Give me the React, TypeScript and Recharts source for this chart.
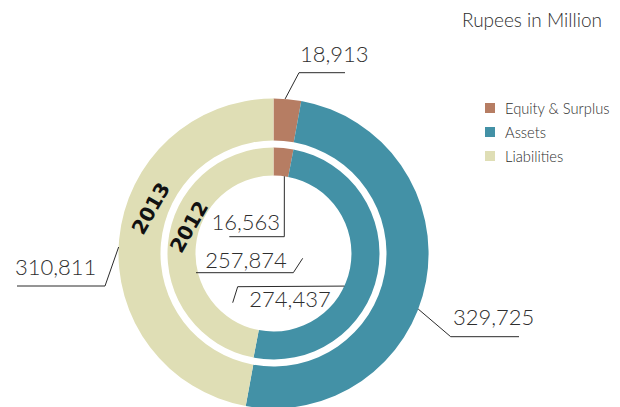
import { PieChart, Pie, Cell, Legend } from "recharts";

const categories = ["Equity & Surplus", "Assets", "Liabilities"];
const values2013 = [18913, 329725, 310811];
const values2012 = [16563, 274437, 257874];
const COLORS = ["#b67d63", "#4391a6", "#dfdeb5"];

const FONT = "Lato, 'Open Sans', sans-serif";
const RAD = Math.PI / 180;

const data2013 = categories.map((name, i) => ({ name, value: values2013[i] }));
const data2012 = categories.map((name, i) => ({ name, value: values2012[i] }));

type Spec = {
  angle?: number;
  edge?: "inner" | "outer";
  start?: [number, number];
  path: [number, number][];
  text: [number, number];
  anchor: "start" | "end";
};

// leader lines, offsets relative to the pie centre
const outerSpecs: Spec[] = [
  { angle: 85.7, edge: "outer", path: [[25.5, -180.8], [71.5, -180.8]], text: [26.5, -191.5], anchor: "start" },
  { angle: -21, edge: "outer", path: [[177.2, 83.2], [245.5, 83.2]], text: [179.5, 71.5], anchor: "start" },
  { angle: 177.6, edge: "outer", path: [[-168.5, 32.5], [-256.5, 32.5]], text: [-258.5, 21.5], anchor: "start" },
];
const innerSpecs: Spec[] = [
  { angle: 82, edge: "inner", path: [[10.8, -16.8], [-44.2, -16.8]], text: [6.5, -23.5], anchor: "end" },
  { angle: -24.7, edge: "inner", path: [[-35.8, 33.2], [-40.8, 49.2]], text: [-24.2, 53.2], anchor: "start" },
  { start: [29.2, 4.8], path: [[19.8, 19.2], [-77.5, 19.2]], text: [13.2, 14.8], anchor: "end" },
];

function makeLabel(specs: Spec[], year: string, yearPos: [number, number]) {
  return (p: any) => {
    const s = specs[p.index];
    const { cx, cy } = p;
    let start: [number, number];
    if (s.start) {
      start = [cx + s.start[0], cy + s.start[1]];
    } else {
      const r = s.edge === "inner" ? p.innerRadius : p.outerRadius;
      start = [cx + r * Math.cos(-s.angle! * RAD), cy + r * Math.sin(-s.angle! * RAD)];
    }
    const pts = [start, ...s.path.map(([dx, dy]) => [cx + dx, cy + dy])];
    const yx = cx + yearPos[0];
    const yy = cy + yearPos[1];
    return (
      <g key={`lbl-${year}-${p.index}`}>
        <polyline points={pts.map((q) => q.join(",")).join(" ")} fill="none" stroke="#2b2b2b" strokeWidth={1} />
        <text
          x={cx + s.text[0]}
          y={cy + s.text[1]}
          textAnchor={s.anchor}
          fontFamily={FONT}
          fontWeight={300}
          fontSize={22}
          fill="#2e2e2e"
        >
          {p.value.toLocaleString("en-US")}
        </text>
        {p.index === 2 && (
          <text
            x={yx}
            y={yy}
            transform={`rotate(-60, ${yx}, ${yy})`}
            textAnchor="middle"
            dominantBaseline="central"
            fontFamily="'DejaVu Sans', sans-serif"
            fontWeight="bold"
            fontSize={20}
            fill="#111"
          >
            {year}
          </text>
        )}
      </g>
    );
  };
}

function LegendBox() {
  return (
    <div style={{ fontFamily: FONT, fontWeight: 300, color: "#2e2e2e" }}>
      {categories.map((c, i) => (
        <div key={c} style={{ display: "flex", alignItems: "center", height: 24, fontSize: 14.7 }}>
          <span style={{ width: 10, height: 10, background: COLORS[i], marginRight: 10 }} />
          {c}
        </div>
      ))}
    </div>
  );
}

export default function App() {
  return (
    <div style={{ position: "absolute", left: 0, top: 0, width: 620, height: 407, background: "#fff" }}>
      <div
        style={{
          position: "absolute",
          left: 462,
          top: 8,
          fontFamily: FONT,
          fontWeight: 300,
          fontSize: 19,
          color: "#2e2e2e",
          whiteSpace: "nowrap",
        }}
      >
        Rupees in Million
      </div>
      <PieChart width={620} height={407} margin={{ top: 0, right: 0, bottom: 0, left: 0 }}>
        <Pie
          data={data2013}
          dataKey="value"
          nameKey="name"
          cx={273.5}
          cy={253.5}
          innerRadius={113}
          outerRadius={155}
          startAngle={90}
          endAngle={-270}
          stroke="none"
          isAnimationActive={false}
          labelLine={false}
          label={makeLabel(outerSpecs, "2013", [-122.7, -45.2])}
        >
          {data2013.map((_, i) => <Cell key={i} fill={COLORS[i]} />)}
        </Pie>
        <Pie
          data={data2012}
          dataKey="value"
          nameKey="name"
          cx={273.5}
          cy={253.5}
          innerRadius={78}
          outerRadius={106}
          startAngle={90}
          endAngle={-270}
          stroke="none"
          isAnimationActive={false}
          labelLine={false}
          label={makeLabel(innerSpecs, "2012", [-84.5, -26.8])}
        >
          {data2012.map((_, i) => <Cell key={i} fill={COLORS[i]} />)}
        </Pie>
        <Legend
          content={() => <LegendBox />}
          wrapperStyle={{ position: "absolute", left: 485, top: 96, width: 135 }}
        />
      </PieChart>
    </div>
  );
}
